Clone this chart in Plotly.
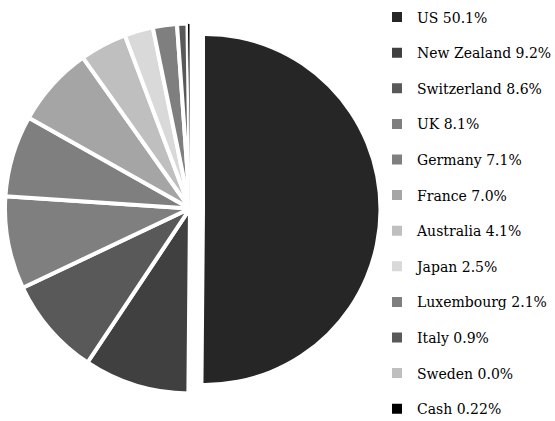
import plotly.graph_objects as go

# Portfolio allocation by country
countries = ["US", "New Zealand", "Switzerland", "UK", "Germany", "France",
             "Australia", "Japan", "Luxembourg", "Italy", "Sweden", "Cash"]
weights = [50.1, 9.2, 8.6, 8.1, 7.1, 7.0, 4.1, 2.5, 2.1, 0.9, 0.0, 0.22]
weight_text = ["50.1%", "9.2%", "8.6%", "8.1%", "7.1%", "7.0%",
               "4.1%", "2.5%", "2.1%", "0.9%", "0.0%", "0.22%"]
colors = ["#262626", "#404040", "#595959", "#7f7f7f", "#7f7f7f", "#a5a5a5",
          "#bfbfbf", "#d9d9d9", "#7f7f7f", "#595959", "#bfbfbf", "#000000"]

labels = [f"{c} {t}" for c, t in zip(countries, weight_text)]
W, H = 555, 421
CLEAR = "rgba(0,0,0,0)"
SERIF = "DejaVu Serif"


def dom(left, top, right, bottom):
    """Pixel box -> paper-domain dict."""
    return dict(x=[left / W, right / W], y=[1 - bottom / H, 1 - top / H])


fig = go.Figure()

# legend entries: one small pie per country, each in its own group
for lab, col in zip(labels, colors):
    fig.add_trace(go.Pie(
        labels=[lab], values=[1], sort=False,
        marker=dict(colors=[col], line=dict(color="white", width=2)),
        textinfo="none", hoverinfo="skip",
        domain=dom(270, 200, 280, 210),
        legendgroup=lab, showlegend=True,
    ))

# all holdings except the US
rest_colors = [CLEAR] + colors[1:]
rest_widths = [0] + [4] * (len(colors) - 3) + [2, 1]
fig.add_trace(go.Pie(
    labels=labels, values=weights, sort=False, direction="clockwise", rotation=0,
    marker=dict(colors=rest_colors, line=dict(color="white", width=rest_widths)),
    textinfo="none", hoverinfo="label", showlegend=False,
    domain=dom(5, 23.5, 375, 393.5),
))

# the US slice, drawn apart from the rest
us_colors = [colors[0]] + [CLEAR] * (len(colors) - 1)
fig.add_trace(go.Pie(
    labels=labels, values=weights, sort=False, direction="clockwise", rotation=0,
    marker=dict(colors=us_colors, line=dict(width=0)),
    textinfo="none", hoverinfo="label", showlegend=False,
    domain=dom(31.5, 35.9, 378.5, 382.9),
))

fig.update_layout(
    width=W, height=H,
    margin=dict(l=0, r=0, t=0, b=0, autoexpand=False),
    paper_bgcolor="white", plot_bgcolor="white",
    font=dict(family=SERIF, color="#000000"),
    showlegend=True,
    legend=dict(
        x=377 / W, xanchor="left", y=1 - 1.5 / H, yanchor="top",
        traceorder="grouped", tracegroupgap=14.4,
        maxheight=900,
        font=dict(family=SERIF, size=14, color="#000000"),
        bgcolor="rgba(0,0,0,0)", borderwidth=0,
    ),
)

fig.write_html("out.html")
